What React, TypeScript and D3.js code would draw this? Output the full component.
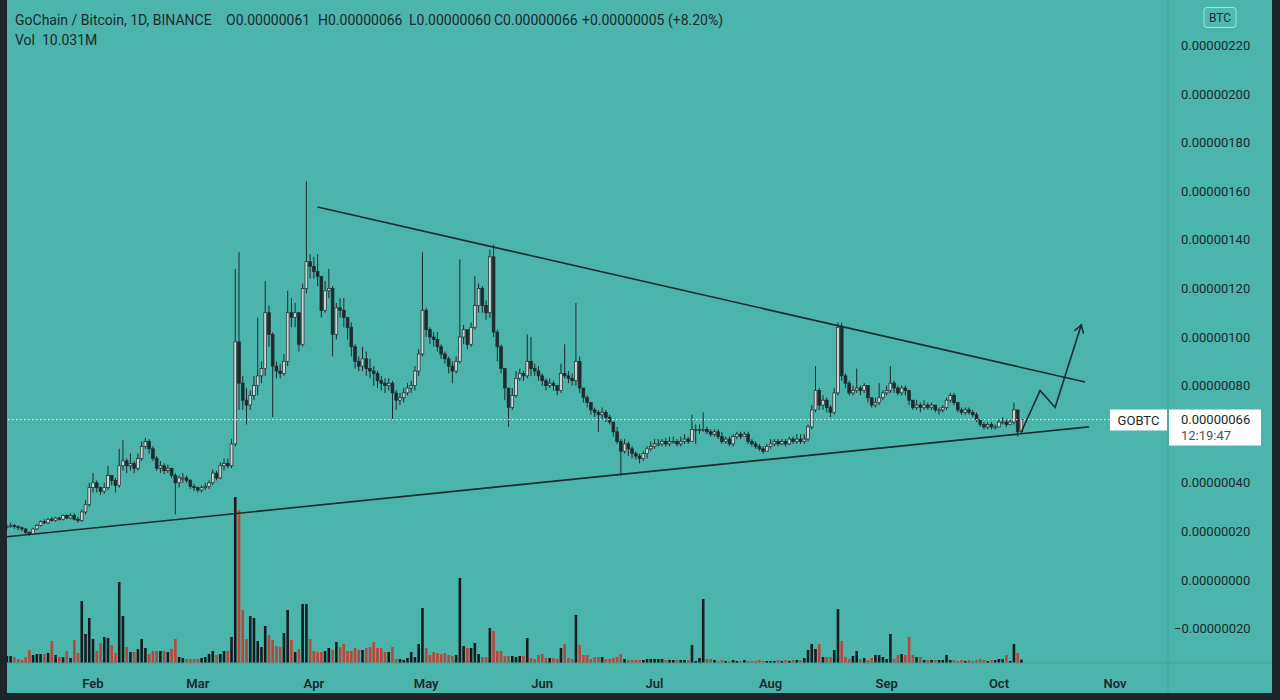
import React from "react";
import * as d3 from "d3";

// prices in satoshi (1e-8 BTC), daily candles from 2021-01-09 to 2021-10-07
const firstDay = new Date(2021, 0, 9);
const firstOpen = 22;

const closes = [
  // Jan
  22, 22.5, 22, 21.5, 21, 19.5, 19, 21, 22.5, 24, 23.5, 25, 24.5, 25.5, 25, 26.5, 25.5, 26.5, 25, 24.5, 28, 31, 38,
  // Feb
  40, 38, 36.5, 38, 43, 41, 39, 47, 49, 47, 48, 46, 50, 55, 57, 54, 50, 46, 47, 45, 46, 43, 40, 42, 42, 41, 38.5, 38,
  // Mar
  37, 38, 38.5, 40, 44, 42, 47, 48, 47, 56, 98, 81, 74, 72, 76, 80, 84, 87, 110, 101, 88, 86, 85, 90, 110, 108, 110, 97, 120, 131, 129,
  // Apr
  127, 125, 111, 119, 120, 101, 112, 111, 108, 104, 96, 90, 88, 91, 87, 86, 85, 82, 81, 80, 81, 77, 74, 75, 77, 79, 80, 86, 93, 111,
  // May
  103, 100, 99, 96, 93, 91, 88, 86, 90, 100, 103, 97, 104, 113, 120, 113, 110, 133, 102, 96, 87, 79, 71, 76, 83, 85, 84, 90, 87, 86, 84,
  // Jun
  82, 80, 81, 80, 78, 85, 84, 83, 82, 90, 79, 75, 73, 70, 69, 68, 69, 67, 65, 61, 57, 53, 56, 54, 52, 51, 50, 52, 54, 55,
  // Jul
  56, 56, 57, 56, 57, 57, 56, 57, 58, 57, 62, 62, 62, 62, 61, 60, 61, 59, 57, 58, 56, 59, 60, 59, 60, 57, 56, 55, 54, 53, 55,
  // Aug
  56, 57, 56, 57, 56, 58, 57, 58, 57, 58, 63, 70, 78, 72, 74, 71, 69, 77, 104, 84, 81, 77, 78, 79, 78, 80, 75, 72, 73, 75, 77,
  // Sep
  78, 81, 79, 77, 79, 78, 74, 71, 72, 71, 72, 71, 72, 70, 70, 71, 74, 76, 73, 70, 69, 70, 69, 68, 66, 64, 63, 64, 63, 63,
  // Oct
  65, 65, 64, 65, 70, 61, 66,
];

const highs = [
  23, 23.5, 23, 22.5, 22, 21.5, 20, 21.5, 23, 24.5, 25, 25.5, 26, 26, 26, 27, 27, 27.5, 27.5, 26, 29, 33, 40,
  44, 41, 38.5, 40, 47, 43, 42, 54, 57.5, 50, 52, 49, 52, 57, 58.5, 58, 55, 51, 49, 48, 47.5, 46, 44, 43, 44, 43, 41.5, 39.5,
  38.5, 39, 40, 41, 45.5, 45, 48.5, 50, 50, 58, 128, 135, 84, 79, 78, 84, 108, 90, 123, 113, 102, 90, 89, 93, 119, 116, 114, 105, 122, 164, 134,
  133, 134, 125, 123, 128, 121, 114, 116, 116, 108, 106, 97, 92, 96, 94, 91, 88, 86, 84, 83, 83, 82, 78, 77, 79, 81, 82, 88, 95, 135,
  112, 104, 102, 102, 97, 94, 92, 90, 92, 132, 105, 103, 106, 125, 122, 121, 115, 136, 138, 103, 97, 87, 79, 79, 86, 87, 86, 101, 100, 89, 88,
  85, 83, 83, 82, 80, 89, 97, 86, 85, 114, 92, 79, 76, 73, 71, 70, 71, 70, 68, 65, 63, 58, 58, 57, 55, 53, 52, 53, 55, 57,
  58, 58, 58, 58.5, 59, 59, 58, 59, 60, 59, 68, 64, 64, 69, 63, 62, 62, 62, 61, 59, 59, 60, 61, 61, 61, 61, 58, 57, 56, 55, 56,
  58, 58, 58, 58, 58, 59, 59, 60, 60, 60, 64, 72, 88, 79, 76, 75, 72, 79, 106, 106, 85, 82, 80, 87, 80, 81, 80, 75, 75, 81, 78,
  80, 88, 82, 80, 80, 80, 78, 74, 74, 73, 74, 73, 73, 72, 71, 72, 75, 77, 77, 73, 71, 71, 71, 70, 69, 66, 65, 65, 65, 64,
  66, 67, 66, 66, 73, 70, 66,
];

const lows = [
  21, 21.5, 21, 20.5, 20, 19, 18, 18.5, 20.5, 22, 23, 23, 24, 24, 24.5, 24.5, 25, 25, 24.5, 23.5, 24, 27, 30,
  36, 36, 35, 35.5, 37, 39, 36, 38, 45, 44, 45, 44, 45, 49, 54, 52, 49, 45, 44, 43.5, 44, 42, 27, 38, 40, 40, 37.5, 36.5,
  36, 36, 37, 37.5, 39, 41, 41.5, 45, 46, 46, 55, 70, 70, 64, 70, 74, 76, 81, 84, 96, 67, 83, 83, 84, 88, 104, 104, 94, 96, 118, 124,
  124, 121, 108, 110, 116, 92, 99, 108, 104, 99, 92, 87, 86, 86, 84, 83, 80, 79, 78, 77, 78, 66, 70, 72, 73, 76, 77, 78, 84, 92,
  100, 97, 96, 94, 91, 89, 85, 81, 85, 89, 97, 95, 96, 103, 110, 110, 107, 108, 100, 90, 85, 74, 63, 70, 75, 82, 82, 83, 84, 84, 82,
  80, 78, 79, 78, 76, 77, 83, 81, 80, 80, 77, 73, 71, 68, 67, 61, 66, 65, 64, 59, 56, 43, 52, 51, 50, 49.5, 48, 49, 50, 53,
  54, 55, 55, 55, 55, 56, 55, 55, 56, 56, 57, 56, 60, 61, 60, 59, 59, 58, 56, 56, 55, 55, 58, 58, 59, 56, 55, 54, 53, 52, 53,
  54, 55, 55, 55.5, 55, 55.5, 56, 56, 56, 56, 57, 62, 69, 70, 70, 69, 67, 68, 76, 82, 79, 76, 76, 77, 76, 77, 73, 71, 71, 72, 74,
  76, 77, 77, 76, 76, 76, 72, 70, 70, 69, 70, 70, 70, 69, 68, 69, 70, 73, 72, 69, 68, 68, 68, 67, 65, 63, 62, 62, 62, 62,
  63, 64, 63, 64, 64, 59, 60,
];

// volume, millions
const volumes = [
  21, 21, 18, 12, 9, 18, 39, 24, 27, 27, 27, 30, 66, 24, 18, 18, 36, 15, 69, 30, 186, 87, 135,
  72, 36, 60, 78, 75, 54, 30, 243, 141, 48, 33, 33, 42, 72, 45, 27, 36, 36, 36, 36, 33, 42, 72, 18, 15, 12, 12, 12,
  12, 15, 18, 27, 36, 24, 27, 36, 36, 78, 498, 459, 159, 72, 141, 135, 66, 48, 111, 84, 69, 51, 48, 90, 159, 69, 33, 42, 177, 177, 72,
  36, 33, 33, 36, 45, 39, 63, 48, 57, 36, 36, 45, 39, 39, 45, 48, 63, 45, 45, 33, 33, 48, 12, 12, 9, 15, 33, 18, 57, 165,
  45, 24, 33, 30, 27, 30, 24, 21, 24, 255, 51, 45, 45, 60, 27, 18, 18, 105, 96, 36, 36, 21, 21, 21, 18, 21, 21, 75, 15, 12, 24,
  27, 15, 15, 15, 12, 45, 57, 15, 12, 144, 54, 24, 24, 12, 18, 18, 18, 12, 12, 15, 18, 27, 12, 9, 9, 9, 9, 9, 12, 12,
  12, 12, 12, 9, 9, 9, 9, 9, 9, 9, 54, 6, 15, 192, 12, 12, 9, 6, 9, 6, 6, 9, 6, 6, 9, 6, 6, 6, 9, 6, 6,
  6, 6, 9, 6, 9, 6, 9, 9, 9, 15, 39, 57, 42, 57, 18, 18, 18, 39, 162, 66, 18, 12, 21, 36, 12, 15, 9, 15, 24, 24, 18,
  12, 87, 12, 24, 27, 24, 78, 24, 18, 18, 9, 9, 9, 9, 9, 9, 24, 9, 9, 6, 9, 6, 9, 6, 9, 12, 9, 6, 9, 9,
  12, 12, 24, 6, 57, 30, 10.031,
];

const priceTicks = [220, 200, 180, 160, 140, 120, 100, 80, 40, 20, 0, -20];
const lastPrice = 66;

const upperTrend: [string, number][] = [["2021-04-02", 153.5], ["2021-10-24", 81.5]];
const lowerTrend: [string, number][] = [["2021-01-09", 17.8], ["2021-10-25", 63]];
const arrowPath: [string, number][] = [
  ["2021-10-07", 61],
  ["2021-10-12", 78],
  ["2021-10-16", 71],
  ["2021-10-23", 105],
];

const headerParts = [
  "GoChain / Bitcoin, 1D, BINANCE",
  "O0.00000061",
  "H0.00000066",
  "L0.00000060",
  "C0.00000066",
  "+0.00000005 (+8.20%)",
];
const headerX = [15, 226, 318, 409, 494, 582];

const BG = "#4cb5ab";
const INK = "#1b2a2d";
const FONT = "Roboto, 'Liberation Sans', sans-serif";

export default function App() {
  const parse = d3.timeParse("%Y-%m-%d");

  const x = d3
    .scaleTime()
    .domain([new Date(2021, 1, 1), new Date(2021, 10, 1)])
    .range([93, 1115]);
  const y = d3.scaleLinear().domain([-20, 220]).range([628.6, 45.4]);
  const vy = d3.scaleLinear().domain([0, 498]).range([663, 497]);

  const candles = closes.map((c, i) => {
    const o = i === 0 ? firstOpen : closes[i - 1];
    return {
      date: d3.timeDay.offset(firstDay, i),
      o,
      c,
      h: Math.max(highs[i], o, c),
      l: Math.min(lows[i], o, c),
      v: volumes[i],
    };
  });

  const line = d3
    .line<[string, number]>()
    .x(d => x(parse(d[0]) as Date))
    .y(d => y(d[1]));

  const fmt = (v: number) => (v < 0 ? "\u2212" : "") + (Math.abs(v) / 1e8).toFixed(8);

  // arrow head from last segment direction
  const a1 = arrowPath[arrowPath.length - 2];
  const a2 = arrowPath[arrowPath.length - 1];
  const ax1 = x(parse(a1[0]) as Date), ay1 = y(a1[1]);
  const ax2 = x(parse(a2[0]) as Date), ay2 = y(a2[1]);
  const ang = Math.atan2(ay2 - ay1, ax2 - ax1);
  const headLen = 9;
  const head = [ang + Math.PI - 0.55, ang + Math.PI + 0.55].map(t => [
    ax2 + headLen * Math.cos(t),
    ay2 + headLen * Math.sin(t),
  ]);

  const months = d3.timeMonth.range(new Date(2021, 1, 1), new Date(2021, 10, 2));
  const yLast = y(lastPrice);

  return (
    <svg
      width={1280}
      height={700}
      style={{ position: "fixed", left: 0, top: 0, fontFamily: FONT }}
    >
      <rect width={1280} height={700} fill={BG} />

      {/* header */}
      <g fill={INK} fontSize={14}>
        {headerParts.map((t, i) => (
          <text key={t} x={headerX[i]} y={25}>
            {t}
          </text>
        ))}
        <text x={15} y={45}>Vol</text>
        <text x={42} y={45}>10.031M</text>
      </g>

      {/* volume */}
      <g>
        {candles.map((d, i) => (
          <rect
            key={i}
            x={x(d.date) - 1.3}
            width={2.6}
            y={vy(d.v)}
            height={vy(0) - vy(d.v)}
            fill={d.c >= d.o ? "#151c1e" : "#b8463a"}
          />
        ))}
      </g>

      {/* trend lines */}
      <g fill="none" stroke={INK} strokeWidth={1.6}>
        <path d={line(upperTrend) || ""} />
        <path d={line(lowerTrend) || ""} />
      </g>

      {/* candles */}
      <g>
        {candles.map((d, i) => {
          const cx = x(d.date);
          const top = y(Math.max(d.o, d.c));
          const bot = y(Math.min(d.o, d.c));
          const up = d.c >= d.o;
          return (
            <g key={i}>
              <line x1={cx} x2={cx} y1={y(d.h)} y2={y(d.l)} stroke="#1f2b2d" strokeWidth={1} />
              <rect
                x={cx - 1.4}
                width={2.8}
                y={top}
                height={Math.max(1, bot - top)}
                fill={up ? "#cdd3d2" : "#1f2a2c"}
                stroke="#1f2b2d"
                strokeWidth={0.7}
              />
            </g>
          );
        })}
      </g>

      {/* drawn arrow */}
      <g fill="none" stroke={INK} strokeWidth={1.6} strokeLinejoin="miter">
        <path d={line(arrowPath) || ""} />
        <path d={`M${head[0][0]},${head[0][1]}L${ax2},${ay2}L${head[1][0]},${head[1][1]}`} />
      </g>

      {/* last price dotted line */}
      <line
        x1={8}
        x2={1110}
        y1={yLast}
        y2={yLast}
        stroke="#e8f4f2"
        strokeWidth={1}
        strokeDasharray="1.5,2.5"
      />

      {/* separators */}
      <line x1={1168} x2={1168} y1={0} y2={693} stroke="#42a59b" strokeWidth={1} />
      <line x1={7} x2={1272} y1={663} y2={663} stroke="#42a59b" strokeWidth={1} />

      {/* price axis */}
      <g fill={INK} fontSize={13}>
        {priceTicks.map(t => (
          <text key={t} x={1181} y={y(t)} dy="0.35em" dx={t < 0 ? -7 : 0}>
            {fmt(t)}
          </text>
        ))}
      </g>

      {/* BTC badge */}
      <rect x={1204} y={7.5} width={32} height={20} rx={3} fill="#50b9af" stroke="#a8e0da" strokeWidth={1} />
      <text x={1220} y={17.5} dy="0.35em" textAnchor="middle" fontSize={12} fill={INK}>
        BTC
      </text>

      {/* last price labels */}
      <rect x={1110} y={409.5} width={57} height={21} fill="#ffffff" />
      <text x={1138.5} y={420} dy="0.35em" textAnchor="middle" fontSize={13} fill={INK}>
        GOBTC
      </text>
      <rect x={1169} y={409.5} width={92} height={36} fill="#ffffff" />
      <text x={1181} y={yLast} dy="0.35em" fontSize={13} fill={INK}>
        {fmt(lastPrice)}
      </text>
      <text x={1181} y={yLast + 16} dy="0.35em" fontSize={13} fill="#4a5456">
        12:19:47
      </text>

      {/* time axis */}
      <g fill={INK} fontSize={13} fontWeight={600} textAnchor="middle">
        {months.map(m => (
          <text key={m.getTime()} x={x(m)} y={683} dy="0.35em">
            {d3.timeFormat("%b")(m)}
          </text>
        ))}
      </g>

      {/* frame */}
      <rect x={0} y={0} width={7} height={700} fill="#1c2529" />
      <rect x={1272} y={0} width={8} height={700} fill="#1c2529" />
      <rect x={0} y={693} width={1280} height={7} fill="#1c2529" />
    </svg>
  );
}
